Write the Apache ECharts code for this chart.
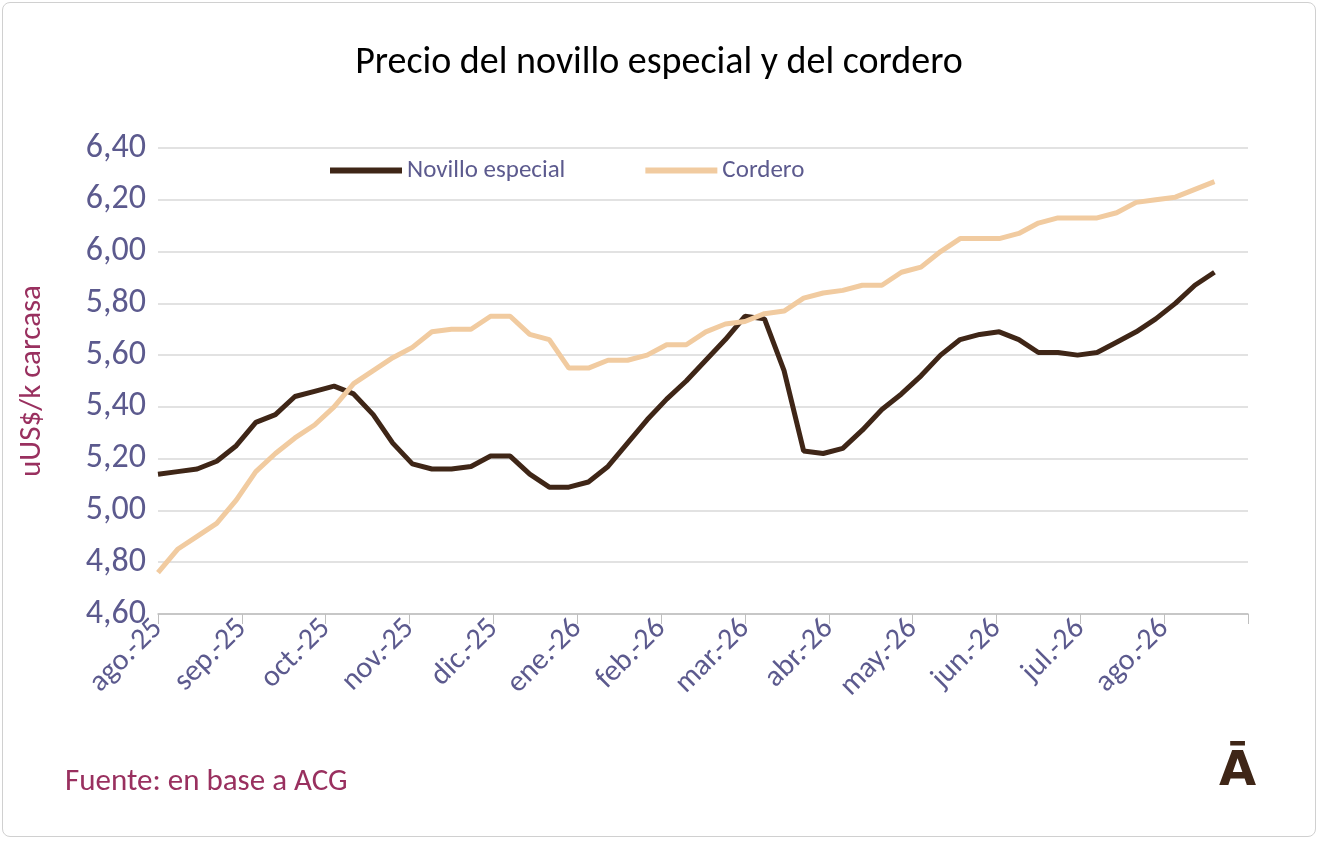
<!DOCTYPE html>
<html><head><meta charset="utf-8">
<script src="https://cdn.jsdelivr.net/npm/echarts@6/dist/echarts.min.js"></script>
<style>html,body{margin:0;padding:0;background:#fff}
#c{position:absolute;left:2px;top:2px;width:1314px;height:835px;border:1px solid #d0d0d0;border-radius:8px;box-sizing:border-box}</style>
</head><body><div id="c"></div>
<script>
const monthLabels=['ago.-25','sep.-25','oct.-25','nov.-25','dic.-25','ene.-26','feb.-26','mar.-26','abr.-26','may.-26','jun.-26','jul.-26','ago.-26'];
const novillo=[5.14,5.15,5.16,5.19,5.25,5.34,5.37,5.44,5.46,5.48,5.45,5.37,5.26,5.18,5.16,5.16,5.17,5.21,5.21,5.14,5.09,5.09,5.11,5.17,5.26,5.35,5.43,5.50,5.58,5.66,5.75,5.74,5.54,5.23,5.22,5.24,5.31,5.39,5.45,5.52,5.60,5.66,5.68,5.69,5.66,5.61,5.61,5.60,5.61,5.65,5.69,5.74,5.80,5.87,5.92];
const cordero=[4.76,4.85,4.90,4.95,5.04,5.15,5.22,5.28,5.33,5.40,5.49,5.54,5.59,5.63,5.69,5.70,5.70,5.75,5.75,5.68,5.66,5.55,5.55,5.58,5.58,5.60,5.64,5.64,5.69,5.72,5.73,5.76,5.77,5.82,5.84,5.85,5.87,5.87,5.92,5.94,6.00,6.05,6.05,6.05,6.07,6.11,6.13,6.13,6.13,6.15,6.19,6.20,6.21,6.24,6.27];
const weekInMonths=7/30;
const toPairs=a=>a.map((v,i)=>[i*weekInMonths,v]);
const chart=echarts.init(document.getElementById('c'));
const F='Carlito, Calibri, "Open Sans", sans-serif';
chart.setOption({
  animation:false,
  title:{text:'Precio del novillo especial y del cordero',left:'center',top:36,textStyle:{fontFamily:F,fontSize:38,fontWeight:'normal',color:'#000'}},
  legend:{top:150,left:322,itemGap:80,itemWidth:72,itemHeight:6,icon:'rect',textStyle:{fontSize:25,color:'#5c5a8e',fontFamily:F},
    data:['Novillo especial','Cordero']},
  grid:{left:155,right:67,top:145,bottom:222},
  xAxis:{type:'value',min:0,max:13,interval:1,
    axisLine:{lineStyle:{color:'#bfbfbf',width:1.5}},
    axisTick:{show:true,length:10,lineStyle:{color:'#bfbfbf'}},
    splitLine:{show:false},
    axisLabel:{rotate:45,fontSize:30,color:'#5c5a8e',margin:10,fontFamily:F,formatter:v=>monthLabels[v]||''}},
  yAxis:{type:'value',min:4.6,max:6.4,interval:0.2,
    name:'uUS$/k carcasa',nameLocation:'middle',nameGap:110,nameTextStyle:{fontSize:31,color:'#99305f',fontFamily:F},
    axisLine:{show:false},axisTick:{show:false},
    splitLine:{lineStyle:{color:'#d9d9d9',width:1.5}},
    axisLabel:{fontSize:34,color:'#5c5a8e',margin:12,fontFamily:F,formatter:v=>v.toFixed(2).replace('.',',')}},
  series:[
    {name:'Novillo especial',type:'line',data:toPairs(novillo),showSymbol:false,lineStyle:{color:'#3f2617',width:5},itemStyle:{color:'#3f2617'}},
    {name:'Cordero',type:'line',data:toPairs(cordero),showSymbol:false,lineStyle:{color:'#f1cba0',width:5},itemStyle:{color:'#f1cba0'}}
  ],
  graphic:[
    {type:'text',left:62,top:764,style:{text:'Fuente: en base a ACG',fontSize:31,fill:'#99305f',fontFamily:F}},
    {type:'text',left:1216,top:746,style:{text:'Ā',fontSize:48,fontWeight:'bold',fill:'#3f2617',fontFamily:'"DejaVu Sans", sans-serif'}}
  ]
});
</script></body></html>
